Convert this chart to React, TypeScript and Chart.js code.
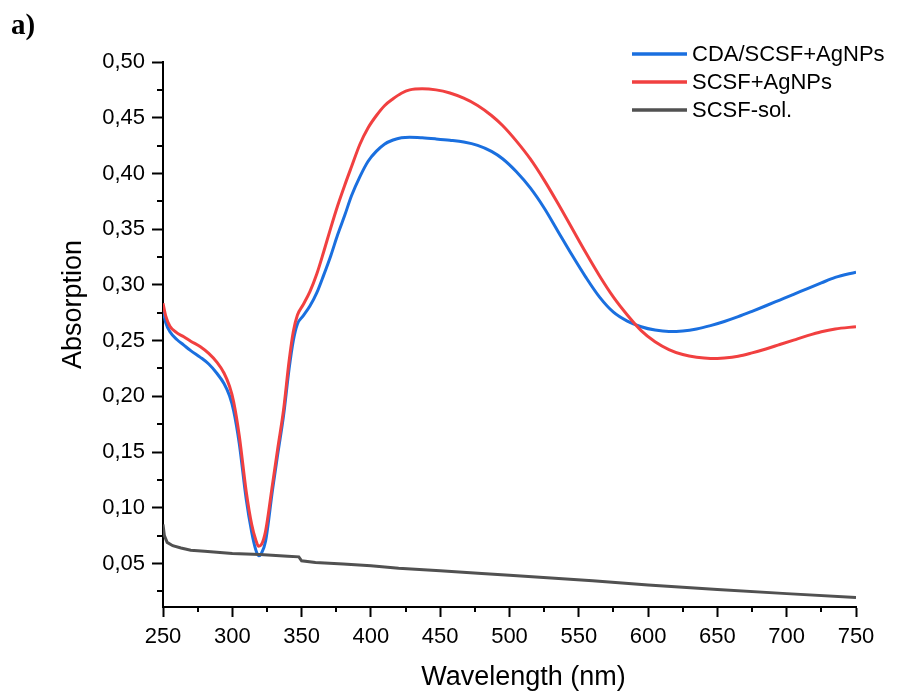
import React, { useEffect, useRef } from "react";
import { Chart, registerables } from "chart.js";

Chart.register(...registerables);

// ---------- data ----------
const wavelengths = [
  250, 252, 255, 260, 265, 270, 277, 283, 289, 294, 298, 301, 305, 310, 314, 317, 319, 321, 324, 329,
  333, 337, 341, 344, 347, 351, 356, 361, 366, 371, 376, 381, 386, 392, 398, 404, 410, 416, 422, 428,
  437, 447, 457, 467, 477, 487, 495, 505, 515, 525, 535, 545, 555, 565, 575, 585, 595, 605, 615, 625,
  635, 645, 655, 665, 675, 685, 695, 705, 715, 725, 735, 750,
];

const cdaScsfAgNPs = [
  0.2775, 0.266, 0.258, 0.251, 0.246, 0.241, 0.235, 0.229, 0.2205, 0.2115, 0.2005, 0.187, 0.158, 0.108, 0.078, 0.062, 0.057, 0.059, 0.07, 0.116,
  0.15, 0.183, 0.225, 0.25, 0.265, 0.272, 0.281, 0.293, 0.309, 0.326, 0.345, 0.362, 0.38, 0.397, 0.411, 0.42, 0.4265, 0.43, 0.432, 0.4325,
  0.432, 0.431, 0.4298, 0.4282, 0.4252, 0.4198, 0.4132, 0.4015, 0.387, 0.369, 0.348, 0.327, 0.307, 0.289, 0.2755, 0.2675, 0.2625, 0.2595, 0.2582, 0.2587,
  0.2605, 0.2635, 0.2672, 0.2715, 0.2763, 0.2813, 0.2864, 0.2915, 0.2967, 0.3018, 0.3067, 0.3115,
];

const scsfAgNPs = [
  0.2835, 0.272, 0.263, 0.257, 0.2535, 0.2495, 0.2445, 0.2385, 0.2305, 0.221, 0.209, 0.195, 0.165, 0.115, 0.085, 0.071, 0.0655, 0.067, 0.079, 0.121,
  0.155, 0.188, 0.232, 0.258, 0.273, 0.282, 0.294, 0.31, 0.33, 0.351, 0.371, 0.389, 0.406, 0.426, 0.441, 0.452, 0.461, 0.467, 0.472, 0.475,
  0.476, 0.475, 0.4722, 0.4675, 0.461, 0.452, 0.443, 0.429, 0.413, 0.394, 0.373, 0.351, 0.329, 0.308, 0.289, 0.273, 0.259, 0.249, 0.242, 0.2375,
  0.235, 0.234, 0.2345, 0.236, 0.239, 0.2425, 0.2465, 0.2505, 0.2545, 0.258, 0.2605, 0.2625,
];

const solWavelengths = [
  250, 251, 253, 257, 263, 270, 280, 300, 320, 340, 348, 350, 360, 380, 400, 420, 450, 480, 500, 530, 560, 600, 650, 700, 750,
];
const scsfSol = [
  0.085, 0.075, 0.069, 0.066, 0.064, 0.062, 0.061, 0.059, 0.058, 0.0565, 0.056, 0.0525, 0.051, 0.0495, 0.048, 0.0458, 0.0435, 0.041, 0.0395, 0.037,
  0.0345, 0.0307, 0.0267, 0.023, 0.0195,
];

const seriesLabels = ["CDA/SCSF+AgNPs", "SCSF+AgNPs", "SCSF-sol."];
const seriesColors = ["#1A6FDF", "#F14040", "#515151"];

const xMajorTicks = [250, 300, 350, 400, 450, 500, 550, 600, 650, 700, 750];
const xMinorTicks = [275, 325, 375, 425, 475, 525, 575, 625, 675, 725];
const yMajorTicks = [0.05, 0.1, 0.15, 0.2, 0.25, 0.3, 0.35, 0.4, 0.45, 0.5];
const yMinorTicks = [0.025, 0.075, 0.125, 0.175, 0.225, 0.275, 0.325, 0.375, 0.425, 0.475];

const xTitle = "Wavelength (nm)";
const yTitle = "Absorption";
const panelLabel = "a)";

const FONT = '"Liberation Sans", Arial, sans-serif';

const isMajorX = (v: number) => xMajorTicks.some((t) => Math.abs(t - v) < 1e-6);
const isMajorY = (v: number) => yMajorTicks.some((t) => Math.abs(t - v) < 1e-6);

const decorPlugin = {
  id: "decor",
  afterDraw(chart: any) {
    const ctx = chart.ctx as CanvasRenderingContext2D;
    const { left, right, top, bottom } = chart.chartArea;
    const xs = chart.scales.x;
    const ys = chart.scales.y;
    ctx.save();
    // minor ticks
    ctx.strokeStyle = "#000";
    ctx.lineWidth = 2;
    ctx.beginPath();
    xMinorTicks.forEach((v) => {
      const px = Math.round(xs.getPixelForValue(v));
      ctx.moveTo(px, bottom);
      ctx.lineTo(px, bottom + 5);
    });
    yMinorTicks.forEach((v) => {
      const py = Math.round(ys.getPixelForValue(v));
      ctx.moveTo(left, py);
      ctx.lineTo(left - 6, py);
    });
    ctx.stroke();

    // axis titles
    ctx.fillStyle = "#000";
    ctx.font = `27px ${FONT}`;
    ctx.textAlign = "center";
    ctx.textBaseline = "middle";
    ctx.fillText(xTitle, (left + right) / 2 + 14, bottom + 71);
    ctx.save();
    ctx.translate(left - 89, (top + bottom) / 2 - 30);
    ctx.rotate(-Math.PI / 2);
    ctx.fillText(yTitle, 0, 0);
    ctx.restore();

    // legend
    ctx.font = `22px ${FONT}`;
    ctx.textAlign = "left";
    ctx.textBaseline = "middle";
    ctx.lineWidth = 3.5;
    seriesLabels.forEach((lab, i) => {
      const y = top - 8 + i * 28;
      ctx.strokeStyle = seriesColors[i];
      ctx.beginPath();
      ctx.moveTo(624, y);
      ctx.lineTo(679, y);
      ctx.stroke();
      ctx.fillStyle = "#000";
      ctx.fillText(lab, 684, y + 1);
    });

    // panel label
    ctx.font = `bold 29px "Liberation Serif", "Times New Roman", serif`;
    ctx.textBaseline = "alphabetic";
    ctx.fillText(panelLabel, 3, 26);
    ctx.restore();
  },
};

export default function App() {
  const ref = useRef<HTMLCanvasElement>(null);

  useEffect(() => {
    const canvas = ref.current;
    if (!canvas) return;
    const mk = (xs: number[], ys: number[]) => xs.map((x, i) => ({ x, y: ys[i] }));
    const chart = new Chart(canvas, {
      type: "line",
      data: {
        datasets: [
          {
            label: seriesLabels[0],
            data: mk(wavelengths, cdaScsfAgNPs),
            borderColor: seriesColors[0],
            borderWidth: 3,
            pointRadius: 0,
            cubicInterpolationMode: "monotone",
            fill: false,
            order: 2,
          },
          {
            label: seriesLabels[1],
            data: mk(wavelengths, scsfAgNPs),
            borderColor: seriesColors[1],
            borderWidth: 3,
            pointRadius: 0,
            cubicInterpolationMode: "monotone",
            fill: false,
            order: 1,
          },
          {
            label: seriesLabels[2],
            data: mk(solWavelengths, scsfSol),
            borderColor: seriesColors[2],
            borderWidth: 3,
            pointRadius: 0,
            tension: 0,
            fill: false,
            order: 0,
          },
        ],
      },
      options: {
        responsive: false,
        animation: false,
        devicePixelRatio: 1,
        layout: { padding: { left: 0, right: 33, top: 54, bottom: 0 } },
        plugins: { legend: { display: false }, tooltip: { enabled: false }, title: { display: false } },
        scales: {
          x: {
            type: "linear",
            min: 250,
            max: 750,
            afterBuildTicks: (scale: any) => {
              scale.ticks = [...xMajorTicks, ...xMinorTicks].sort((a, b) => a - b).map((value) => ({ value }));
            },
            afterFit: (scale: any) => {
              scale.height = 85;
            },
            grid: {
              drawOnChartArea: false,
              drawTicks: true,
              tickLength: 10,
              tickWidth: 2,
              tickColor: (c: any) => (isMajorX(c.tick.value) ? "#000" : "rgba(0,0,0,0)"),
            },
            border: { display: true, color: "#000", width: 2 },
            ticks: {
              autoSkip: false,
              maxRotation: 0,
              padding: 7,
              color: "#000",
              font: { family: FONT, size: 22 },
              callback: (v: any) => (isMajorX(Number(v)) ? String(v) : ""),
            },
          },
          y: {
            type: "linear",
            min: 0.011,
            max: 0.5,
            afterBuildTicks: (scale: any) => {
              scale.ticks = [...yMajorTicks, ...yMinorTicks].sort((a, b) => a - b).map((value) => ({ value }));
            },
            afterFit: (scale: any) => {
              scale.width = 155;
            },
            grid: {
              drawOnChartArea: false,
              drawTicks: true,
              tickLength: 11,
              tickWidth: 2,
              tickColor: (c: any) => (isMajorY(c.tick.value) ? "#000" : "rgba(0,0,0,0)"),
            },
            border: { display: true, color: "#000", width: 2 },
            ticks: {
              autoSkip: false,
              padding: 7,
              color: "#000",
              font: { family: FONT, size: 22 },
              callback: (v: any) => (isMajorY(Number(v)) ? Number(v).toFixed(2).replace(".", ",") : ""),
            },
          },
        },
      } as any,
      plugins: [decorPlugin],
    });
    return () => chart.destroy();
  }, []);

  return <canvas ref={ref} width={881} height={684} style={{ display: "block" }} />;
}
